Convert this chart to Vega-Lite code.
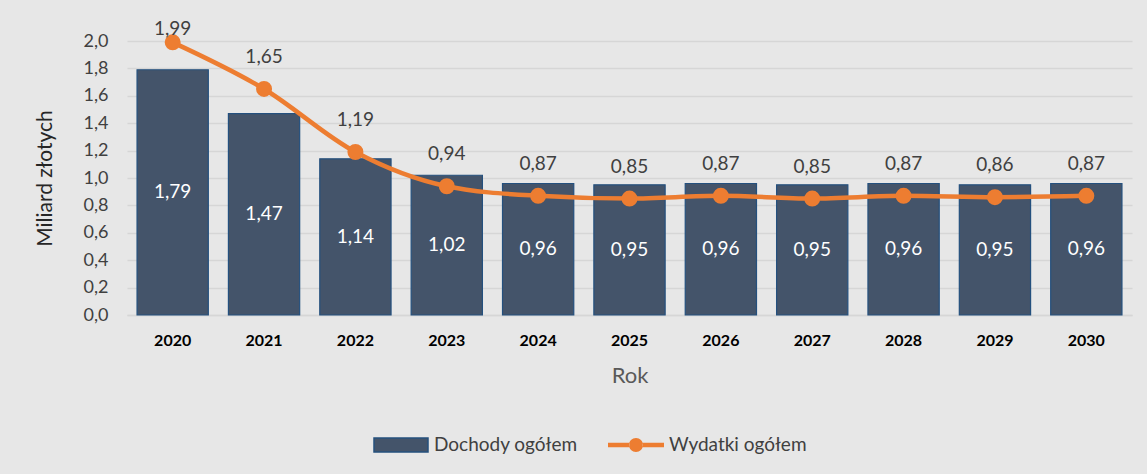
{
  "$schema": "https://vega.github.io/schema/vega-lite/v6.json",
  "autosize": {"type": "none"},
  "width": 1005,
  "height": 274,
  "padding": {"left": 127, "top": 41, "right": 15, "bottom": 159},
  "background": "#e7e7e7",
  "config": {
    "locale": {"number": {"decimal": ",", "thousands": " ", "grouping": [3], "currency": ["", " zł"]}},
    "font": "Lato",
    "view": {"stroke": null},
    "axis": {"labelFont": "Lato", "titleFont": "Lato"},
    "axisY": {"labelOverlap": false, "ticks": false, "domain": false, "gridColor": "#d6d6d6", "gridWidth": 1.5, "labelFontSize": 18, "labelColor": "#404040", "labelPadding": 19, "titleFontSize": 21, "titleFontWeight": "normal", "titleColor": "#262626", "titlePadding": 28},
    "legend": {"labelFont": "Lato", "padding": 0}
  },
  "data": {
    "values": [
      {"rok": "2020", "dochody": 1.79, "wydatki": 1.99},
      {"rok": "2021", "dochody": 1.47, "wydatki": 1.65},
      {"rok": "2022", "dochody": 1.14, "wydatki": 1.19},
      {"rok": "2023", "dochody": 1.02, "wydatki": 0.94},
      {"rok": "2024", "dochody": 0.96, "wydatki": 0.87},
      {"rok": "2025", "dochody": 0.95, "wydatki": 0.85},
      {"rok": "2026", "dochody": 0.96, "wydatki": 0.87},
      {"rok": "2027", "dochody": 0.95, "wydatki": 0.85},
      {"rok": "2028", "dochody": 0.96, "wydatki": 0.87},
      {"rok": "2029", "dochody": 0.95, "wydatki": 0.86},
      {"rok": "2030", "dochody": 0.96, "wydatki": 0.87}
    ]
  },
  "encoding": {
    "x": {
      "field": "rok", "type": "nominal", "title": "Rok",
      "scale": {"paddingInner": 0.22, "paddingOuter": 0.11},
      "axis": {
        "labelAngle": 0, "labelFontSize": 16, "labelFontWeight": "bold", "labelColor": "#000000",
        "labelPadding": 17, "ticks": false, "domain": true, "domainColor": "#d6d6d6", "domainWidth": 1.5,
        "titleFontSize": 22, "titleFontWeight": "normal", "titleColor": "#595959", "titlePadding": 17
      }
    }
  },
  "layer": [
    {
      "mark": {"type": "bar", "stroke": "#24507e", "strokeWidth": 1.2},
      "encoding": {
        "y": {
          "field": "dochody", "type": "quantitative", "title": "Miliard złotych",
          "scale": {"domain": [0, 2]},
          "axis": {"values": [0, 0.2, 0.4, 0.6, 0.8, 1.0, 1.2, 1.4, 1.6, 1.8, 2.0], "format": ".1f"}
        },
        "fill": {
          "datum": "Dochody ogółem", "type": "nominal",
          "scale": {"domain": ["Dochody ogółem"], "range": ["#44546a"]},
          "legend": {
            "orient": "none", "legendX": 246, "legendY": 376, "title": null,
            "labelFontSize": 19, "labelColor": "#404040", "labelOffset": 5,
            "symbolType": "M-1,-0.26L1,-0.26L1,0.26L-1,0.26Z",
            "symbolSize": 2916, "symbolStrokeColor": "#24507e", "symbolStrokeWidth": 1.5
          }
        }
      }
    },
    {
      "transform": [{"calculate": "datum.dochody / 2", "as": "srodek"}],
      "mark": {"type": "text", "color": "#ffffff", "fontSize": 19, "baseline": "middle"},
      "encoding": {
        "y": {
          "field": "srodek", "type": "quantitative", "title": "Miliard złotych",
          "axis": {"values": [0, 0.2, 0.4, 0.6, 0.8, 1.0, 1.2, 1.4, 1.6, 1.8, 2.0], "format": ".1f"}
        },
        "text": {"field": "dochody", "type": "quantitative", "format": ".2f"}
      }
    },
    {
      "mark": {"type": "line", "interpolate": "monotone", "strokeWidth": 4.5, "point": {"filled": true, "size": 196, "color": "#ed7d31"}},
      "encoding": {
        "y": {
          "field": "wydatki", "type": "quantitative", "title": "Miliard złotych",
          "axis": {"values": [0, 0.2, 0.4, 0.6, 0.8, 1.0, 1.2, 1.4, 1.6, 1.8, 2.0], "format": ".1f"}
        },
        "stroke": {
          "datum": "Wydatki ogółem", "type": "nominal",
          "scale": {"domain": ["Wydatki ogółem"], "range": ["#ed7d31"]},
          "legend": {
            "orient": "none", "legendX": 481, "legendY": 376, "title": null,
            "labelFontSize": 19, "labelColor": "#404040", "labelOffset": 5,
            "symbolType": "M-1,-0.08L-0.24,-0.08L-0.24,0.08L-1,0.08Z M0.24,-0.08L1,-0.08L1,0.08L0.24,0.08Z M-0.25,0A0.25,0.25,0,1,0,0.25,0A0.25,0.25,0,1,0,-0.25,0Z",
            "symbolSize": 3136, "symbolFillColor": "#ed7d31", "symbolStrokeWidth": 0,
            "encode": {"symbols": {"update": {"fill": {"value": "#ed7d31"}, "strokeWidth": {"value": 0}, "opacity": {"value": 1}}}}
          }
        }
      }
    },
    {
      "transform": [{"filter": "datum.rok != '2020'"}],
      "mark": {"type": "text", "color": "#404040", "fontSize": 19, "baseline": "middle", "dy": -32},
      "encoding": {
        "y": {
          "field": "wydatki", "type": "quantitative", "title": "Miliard złotych",
          "axis": {"values": [0, 0.2, 0.4, 0.6, 0.8, 1.0, 1.2, 1.4, 1.6, 1.8, 2.0], "format": ".1f"}
        },
        "text": {"field": "wydatki", "type": "quantitative", "format": ".2f"}
      }
    },
    {
      "transform": [{"filter": "datum.rok == '2020'"}],
      "mark": {"type": "text", "color": "#404040", "fontSize": 19, "baseline": "middle", "dy": -13},
      "encoding": {
        "y": {
          "field": "wydatki", "type": "quantitative", "title": "Miliard złotych",
          "axis": {"values": [0, 0.2, 0.4, 0.6, 0.8, 1.0, 1.2, 1.4, 1.6, 1.8, 2.0], "format": ".1f"}
        },
        "text": {"field": "wydatki", "type": "quantitative", "format": ".2f"}
      }
    }
  ]
}
